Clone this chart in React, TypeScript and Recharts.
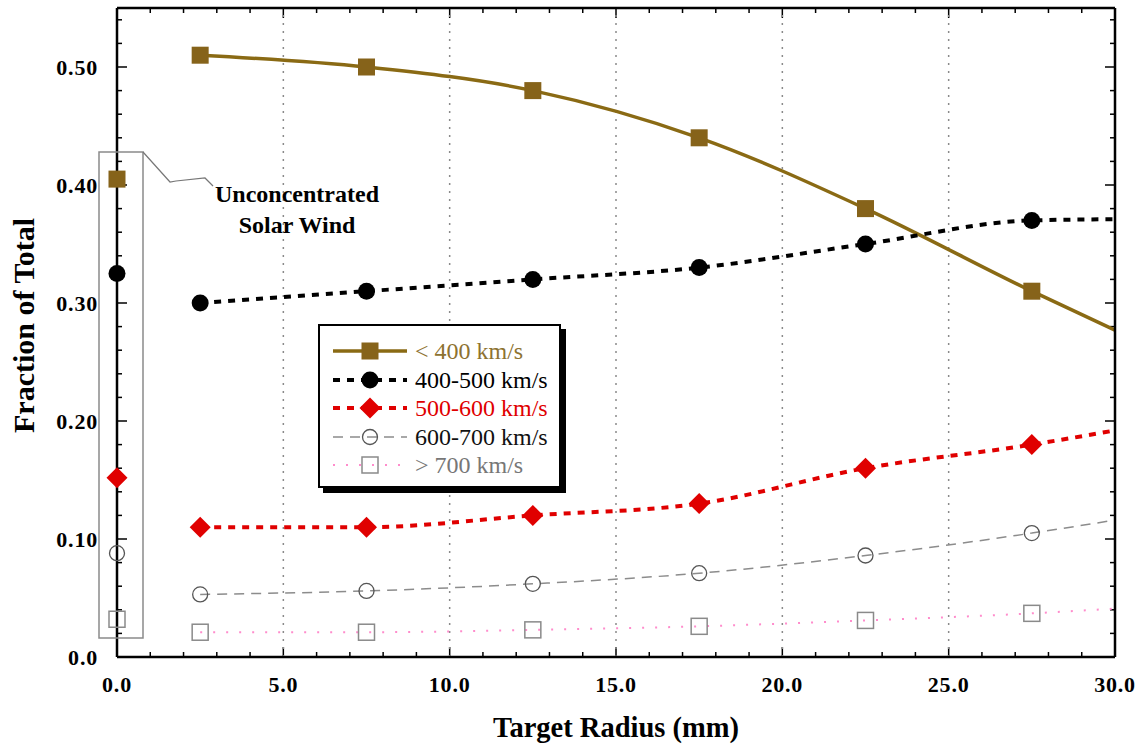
import { ComposedChart, Line, XAxis, YAxis, ReferenceLine, Legend, Label } from "recharts";

// target radius (mm) of each measured point
const radius = [2.5, 7.5, 12.5, 17.5, 22.5, 27.5];

// fraction of total per speed bin
const below400 = [0.51, 0.5, 0.48, 0.44, 0.38, 0.31];
const from400to500 = [0.3, 0.31, 0.32, 0.33, 0.35, 0.37];
const from500to600 = [0.11, 0.11, 0.12, 0.13, 0.16, 0.18];
const from600to700 = [0.053, 0.056, 0.062, 0.071, 0.086, 0.105];
const above700 = [0.021, 0.021, 0.023, 0.026, 0.031, 0.037];

// unconcentrated solar wind, shown at r = 0
const unconcentrated = [0.405, 0.325, 0.152, 0.088, 0.032];
// where each fitted curve meets the 30 mm edge
const fitAt30 = [0.277, 0.371, 0.192, 0.116, 0.041];

const seriesNames = ["< 400 km/s", "400-500 km/s", "500-600 km/s", "600-700 km/s", "> 700 km/s"];
const seriesValues = [below400, from400to500, from500to600, from600to700, above700];

const X_MAX = 30;
const Y_MAX = 0.55;
const xMajor = [0, 5, 10, 15, 20, 25, 30];
const xMinor = Array.from({ length: 31 }, (_, k) => k);
const yMajor = [0, 0.1, 0.2, 0.3, 0.4, 0.5];
const yMinor = Array.from({ length: 28 }, (_, k) => k * 0.02);

const serif = '"Liberation Serif", "Times New Roman", Times, serif';

type Style = {
  stroke: string;
  width: number;
  dash?: string;
  marker: "square" | "circle" | "diamond" | "ring" | "box";
  markerColor: string;
  text: string;
};

const styles: Style[] = [
  { stroke: "#8a6a14", width: 3.5, marker: "square", markerColor: "#86631a", text: "#8d7230" },
  { stroke: "#000", width: 4, dash: "7 7", marker: "circle", markerColor: "#000", text: "#000" },
  { stroke: "#e00000", width: 4, dash: "7 7", marker: "diamond", markerColor: "#e00000", text: "#e00000" },
  { stroke: "#8c8c8c", width: 1.5, dash: "10 7", marker: "ring", markerColor: "#555", text: "#111" },
  { stroke: "#ff8ccc", width: 2, dash: "2 11", marker: "box", markerColor: "#8a8a8a", text: "#777" },
];

// one row per x position: r = 0 holds the unconcentrated points, r = 30 the curve ends
const rows: Record<string, number>[] = [];
const first: Record<string, number> = { r: 0 };
unconcentrated.forEach((v, i) => (first[`m${i}`] = v));
rows.push(first);
radius.forEach((r, j) => {
  const row: Record<string, number> = { r };
  seriesValues.forEach((vals, i) => {
    row[`m${i}`] = vals[j];
    row[`c${i}`] = vals[j];
  });
  rows.push(row);
});
const last: Record<string, number> = { r: 30 };
fitAt30.forEach((v, i) => (last[`c${i}`] = v));
rows.push(last);

// inward tick marks on all four sides, drawn as short reference segments
const PLOT_W = 998;
const PLOT_H = 649;
const xPerPx = X_MAX / PLOT_W;
const yPerPx = Y_MAX / PLOT_H;
type Seg = [{ x: number; y: number }, { x: number; y: number }];
const tickSegs: Seg[] = [];
xMinor.slice(1, -1).forEach((v) => {
  const len = (v % 5 === 0 ? 10 : 5) * yPerPx;
  tickSegs.push([{ x: v, y: 0 }, { x: v, y: len }]);
  tickSegs.push([{ x: v, y: Y_MAX }, { x: v, y: Y_MAX - len }]);
});
yMinor.slice(1).forEach((v) => {
  const len = (Math.round(v * 100) % 10 === 0 ? 10 : 5) * xPerPx;
  tickSegs.push([{ x: 0, y: v }, { x: len, y: v }]);
  tickSegs.push([{ x: X_MAX, y: v }, { x: X_MAX - len, y: v }]);
});

function marker(kind: Style["marker"], cx: number, cy: number, color: string, key?: string) {
  switch (kind) {
    case "square":
      return <rect key={key} x={cx - 8.5} y={cy - 8.5} width={17} height={17} fill={color} />;
    case "circle":
      return <circle key={key} cx={cx} cy={cy} r={8.5} fill={color} />;
    case "diamond":
      return (
        <polygon
          key={key}
          points={`${cx},${cy - 10.5} ${cx + 10.5},${cy} ${cx},${cy + 10.5} ${cx - 10.5},${cy}`}
          fill={color}
        />
      );
    case "ring":
      return <circle key={key} cx={cx} cy={cy} r={7.5} fill="none" stroke={color} strokeWidth={1.3} />;
    default:
      return (
        <rect key={key} x={cx - 8} y={cy - 8} width={16} height={16} fill="none" stroke={color} strokeWidth={1.5} />
      );
  }
}

const tickFont = { fontFamily: serif, fontWeight: 700, fontSize: 22, letterSpacing: 0.8, fill: "#000" };

const bottomLabel = (p: any) => (
  <text key={p.index} x={p.x} y={Number(p.y) + 35} textAnchor="middle" {...tickFont}>
    {Number(p.payload.value).toFixed(1)}
  </text>
);

const leftLabel = (p: any) => {
  const v = Number(p.payload.value);
  return (
    <text key={p.index} x={Number(p.x) - 19} y={Number(p.y) + 7.5} textAnchor="end" {...tickFont}>
      {v === 0 ? "0.0" : v.toFixed(2)}
    </text>
  );
};

const LegendBox = () => (
  <div
    style={{
      width: 243,
      height: 164,
      boxSizing: "border-box",
      border: "2px solid #000",
      background: "#fff",
      boxShadow: "5px 5px 0 #000",
      paddingTop: 11,
    }}
  >
    {seriesNames.map((name, i) => {
      const s = styles[i];
      return (
        <div key={name} style={{ display: "flex", alignItems: "center", height: 28.5 }}>
          <svg width={95} height={28} style={{ flex: "none" }}>
            <line x1={13} x2={87} y1={14} y2={14} stroke={s.stroke} strokeWidth={s.width} strokeDasharray={s.dash} />
            {marker(s.marker, 50, 14, s.markerColor)}
          </svg>
          <span
            style={{
              fontFamily: serif,
              color: s.text,
              fontSize: 24,
              lineHeight: "28px",
              whiteSpace: "nowrap",
            }}
          >
            {name}
          </span>
        </div>
      );
    })}
  </div>
);

const axisLine = { stroke: "#000", strokeWidth: 2.5 };

export default function App() {
  return (
    <div style={{ position: "absolute", left: 0, top: 0, width: 1143, height: 747, background: "#fff" }}>
      <ComposedChart width={1143} height={747} data={rows} margin={{ top: 7, right: 27, bottom: 0, left: 0 }}>
        <XAxis
          dataKey="r"
          type="number"
          domain={[0, X_MAX]}
          ticks={xMajor}
          interval={0}
          tickSize={0}
          tickMargin={0}
          height={90}
          axisLine={axisLine}
          tickLine={false}
          tick={bottomLabel}
        >
          <Label
            value="Target Radius (mm)"
            position="insideBottom"
            offset={10}
            style={{ fontFamily: serif, fontWeight: 700, fontSize: 28.5, fill: "#000" }}
          />
        </XAxis>
        <XAxis
          xAxisId="top"
          orientation="top"
          type="number"
          domain={[0, X_MAX]}
          ticks={xMajor}
          height={1}
          axisLine={axisLine}
          tickLine={false}
          tick={false}
        />
        <YAxis
          type="number"
          domain={[0, Y_MAX]}
          ticks={yMajor}
          interval={0}
          tickSize={0}
          tickMargin={0}
          width={117}
          axisLine={axisLine}
          tickLine={false}
          tick={leftLabel}
        >
          <Label
            value="Fraction of Total"
            angle={-90}
            position="insideLeft"
            offset={23}
            dy={-7}
            style={{ textAnchor: "middle", fontFamily: serif, fontWeight: 700, fontSize: 30, fill: "#000" }}
          />
        </YAxis>
        <YAxis
          yAxisId="right"
          orientation="right"
          type="number"
          domain={[0, Y_MAX]}
          ticks={yMajor}
          width={1}
          axisLine={axisLine}
          tickLine={false}
          tick={false}
        />
        {tickSegs.map((seg, k) => (
          <ReferenceLine key={`t${k}`} segment={seg} stroke="#000" strokeWidth={1.5} />
        ))}
        {[5, 10, 15, 20, 25].map((v) => (
          <ReferenceLine key={v} x={v} stroke="#8a8a8a" strokeWidth={1.5} strokeDasharray="2 6" />
        ))}
        {styles.map((s, i) => (
          <Line
            key={`c${i}`}
            dataKey={`c${i}`}
            type="monotone"
            stroke={s.stroke}
            strokeWidth={s.width}
            strokeDasharray={s.dash}
            dot={false}
            activeDot={false}
            connectNulls
            legendType="none"
            isAnimationActive={false}
          />
        ))}
        {styles.map((s, i) => (
          <Line
            key={`m${i}`}
            dataKey={`m${i}`}
            stroke="none"
            dot={(p: any) =>
              p.cy == null || p.value == null ? <g key={p.key} /> : marker(s.marker, p.cx, p.cy, s.markerColor, p.key)
            }
            activeDot={false}
            legendType="none"
            isAnimationActive={false}
          />
        ))}
        <Legend
          layout="vertical"
          align="center"
          verticalAlign="middle"
          content={<LegendBox />}
          wrapperStyle={{ left: 318, top: 324, width: 243, height: 164 }}
        />
      </ComposedChart>
      <svg
        width={1143}
        height={747}
        style={{ position: "absolute", left: 0, top: 0, pointerEvents: "none" }}
      >
        <rect x={99} y={152} width={44} height={486} fill="none" stroke="#8a8a8a" strokeWidth={1.5} />
        <polyline
          points="143,152 170,182 176,181 205,178 213,186"
          fill="none"
          stroke="#777"
          strokeWidth={1.2}
        />
        <text
          textAnchor="middle"
          style={{ fontFamily: serif, fontWeight: 700, fontSize: 24, fill: "#000" }}
        >
          <tspan x={297} y={202}>Unconcentrated</tspan>
          <tspan x={297} y={233}>Solar Wind</tspan>
        </text>
      </svg>
    </div>
  );
}
